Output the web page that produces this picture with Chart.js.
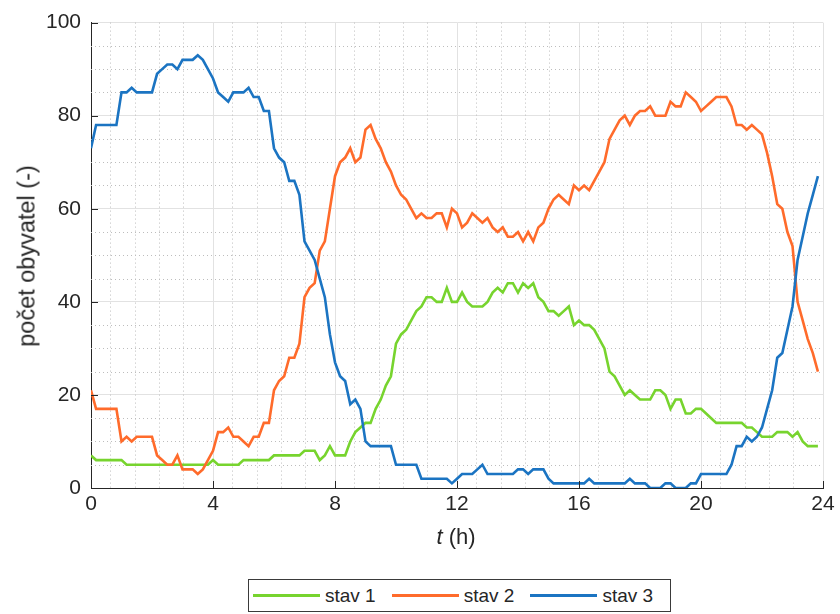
<!DOCTYPE html>
<html>
<head>
<meta charset="utf-8">
<script src="https://cdn.jsdelivr.net/npm/chart.js@4.4.1/dist/chart.umd.min.js"></script>
<style>
  html, body { margin: 0; padding: 0; background: #fff; }
  #wrap { position: relative; width: 840px; height: 614px; font-family: "Liberation Sans", Arial, sans-serif; color: #262626; }
  #c { position: absolute; left: 0; top: 0; }
  .ytitle { position: absolute; left: 27px; top: 256px; transform: translate(-50%, -50%) rotate(-90deg); font-size: 23.5px; white-space: nowrap; }
  .xtitle { position: absolute; left: 456px; top: 537px; transform: translate(-50%, -50%); font-size: 22px; white-space: nowrap; }
  .xtitle i { font-style: italic; }
  #legend { position: absolute; left: 248px; top: 579px; width: 417px; height: 31px; border: 1px solid #3a3a3a; background: #fff;
            display: flex; align-items: center; padding-left: 4px; box-sizing: content-box; font-size: 19px; }
  .item { display: flex; align-items: center; margin-right: 16px; }
  .swatch { width: 67px; height: 2.5px; margin-right: 5px; }
</style>
</head>
<body>
<div id="wrap">
  <canvas id="c" width="840" height="614"></canvas>
  <div class="ytitle">počet obyvatel (-)</div>
  <div class="xtitle"><i>t</i> (h)</div>
  <div id="legend"></div>
</div>
<script>
// sampling interval of the simulation output (minutes)
const stepMinutes = 10;

const seriesNames = ['stav 1', 'stav 2', 'stav 3'];
const seriesColors = ['#77d42e', '#ff6b2b', '#1b74c2'];

const stav1 = [7,6,6,6,6,6,6,5,5,5,5,5,5,5,5,5,5,5,5,5,5,5,5,5,6,5,5,5,5,5,
  6,6,6,6,6,6,7,7,7,7,7,7,8,8,8,6,7,9,7,7,7,10,12,13,14,14,17,19,22,24,
  31,33,34,36,38,39,41,41,40,40,
  43,40,40,42,40,39,39,39,40,42,
  43,42,44,44,42,44,43,44,41,40,
  38,38,37,38,39,35,36,35,35,34,
  32,30,25,24,22,20,21,20,19,19,
  19,21,21,20,17,19,19,16,16,17,
  17,16,15,14,14,14,14,14,14,13,
  13,12,11,11,11,12,12,12,11,12,
  10,9,9,9];

const stav2 = [21,17,17,17,17,17,10,11,10,11,
  11,11,11,7,6,5,5,7,4,4,
  4,3,4,6,8,12,12,13,11,11,
  10,9,11,11,14,14,21,23,24,28,
  28,31,41,43,44,51,53,60,67,70,
  71,73,70,71,77,78,75,73,70,68,
  65,63,62,60,58,59,58,58,59,59,
  56,60,59,56,57,59,58,57,58,56,
  55,56,54,54,55,53,55,53,56,57,
  60,62,63,62,61,65,64,65,64,66,
  68,70,75,77,79,80,78,80,81,81,
  82,80,80,80,83,82,82,85,84,83,
  81,82,83,84,84,84,82,78,78,77,
  78,77,76,72,67,61,60,55,52,40,
  36,32,29,25];

const stav3 = [73,78,78,78,78,78,85,85,86,85,
  85,85,85,89,90,91,91,90,92,92,
  92,93,92,90,88,85,84,83,85,85,
  85,86,84,84,81,81,73,71,70,66,
  66,63,53,51,49,45,41,33,27,24,
  23,18,19,17,10,9,9,9,9,9,
  5,5,5,5,5,2,2,2,2,2,
  2,1,2,3,3,3,4,5,3,3,
  3,3,3,3,4,4,3,4,4,4,
  2,1,1,1,1,1,1,1,2,1,
  1,1,1,1,1,1,2,1,1,1,
  0,0,0,1,1,0,0,0,1,1,
  3,3,3,3,3,3,5,9,9,11,
  10,11,13,17,21,28,29,34,39,49,
  54,59,63,67];

// time of each sample in hours
const hours = stav1.map((_, i) => i * stepMinutes / 60);

const xTicks = [0, 4, 8, 12, 16, 20, 24];
const yTicks = [0, 20, 40, 60, 80, 100];
const xMinorOffsets = [0.63, 1.43, 2.23, 3.03];
const yMinorStep = 5;

const textColor = '#262626';
const axisColor = '#262626';
const majorGrid = '#e2e2e2';
const minorGrid = '#bdbdbd';

const values = [stav1, stav2, stav3];
const datasets = values.map((vals, k) => ({
  label: seriesNames[k],
  data: vals.map((v, i) => ({ x: hours[i], y: v })),
  borderColor: seriesColors[k],
  backgroundColor: seriesColors[k],
  borderWidth: 2.6,
  pointRadius: 0,
  tension: 0,
  fill: false,
  order: 3 - k
}));

// dotted minor grid under the data, inward ticks on the left and bottom axes
const axisDecor = {
  id: 'axisDecor',
  beforeDatasetsDraw(chart) {
    const { ctx, chartArea: a, scales: { x, y } } = chart;
    ctx.save();
    ctx.strokeStyle = minorGrid;
    ctx.lineWidth = 1;
    ctx.setLineDash([1, 3]);
    for (let m = 0; m < 24; m += 4) {
      xMinorOffsets.forEach(o => {
        const px = Math.round(x.getPixelForValue(m + o)) + 0.5;
        ctx.beginPath(); ctx.moveTo(px, a.top); ctx.lineTo(px, a.bottom); ctx.stroke();
      });
    }
    for (let v = yMinorStep; v < 100; v += yMinorStep) {
      if (v % 20 === 0) continue;
      const py = Math.round(y.getPixelForValue(v)) + 0.5;
      ctx.beginPath(); ctx.moveTo(a.left, py); ctx.lineTo(a.right, py); ctx.stroke();
    }
    ctx.restore();
  },
  afterDatasetsDraw(chart) {
    const { ctx, chartArea: a, scales: { x, y } } = chart;
    ctx.save();
    ctx.strokeStyle = axisColor;
    ctx.lineWidth = 1;
    const len = 7;
    xTicks.forEach(v => {
      const px = Math.round(x.getPixelForValue(v)) + 0.5;
      ctx.beginPath(); ctx.moveTo(px, a.bottom); ctx.lineTo(px, a.bottom - len); ctx.stroke();
    });
    yTicks.forEach(v => {
      const py = Math.round(y.getPixelForValue(v)) + 0.5;
      ctx.beginPath(); ctx.moveTo(a.left, py); ctx.lineTo(a.left + len, py); ctx.stroke();
    });
    ctx.restore();
  }
};

Chart.defaults.font.family = '"Liberation Sans", Arial, sans-serif';
Chart.defaults.color = textColor;

new Chart(document.getElementById('c'), {
  type: 'line',
  data: { datasets },
  options: {
    responsive: false,
    animation: false,
    layout: { padding: { left: 0, top: 18, right: 17, bottom: 86 } },
    plugins: { legend: { display: false }, tooltip: { enabled: false } },
    scales: {
      x: {
        type: 'linear', min: 0, max: 24,
        afterBuildTicks: s => { s.ticks = xTicks.map(v => ({ value: v })); },
        afterFit: s => { s.height = 40; },
        ticks: { font: { size: 21 }, color: textColor, padding: 4, maxRotation: 0 },
        grid: { color: majorGrid, lineWidth: 1, drawTicks: false },
        border: { display: true, color: axisColor, width: 1 }
      },
      y: {
        min: 0, max: 100,
        afterBuildTicks: s => { s.ticks = yTicks.map(v => ({ value: v })); },
        afterFit: s => { s.width = 91; },
        ticks: { font: { size: 21 }, color: textColor, padding: 10 },
        grid: { color: majorGrid, lineWidth: 1, drawTicks: false },
        border: { display: true, color: axisColor, width: 1 }
      }
    }
  },
  plugins: [axisDecor]
});

// legend row
const legend = document.getElementById('legend');
seriesNames.forEach((name, k) => {
  const item = document.createElement('div');
  item.className = 'item';
  const sw = document.createElement('div');
  sw.className = 'swatch';
  sw.style.background = seriesColors[k];
  const label = document.createElement('span');
  label.textContent = name;
  item.appendChild(sw);
  item.appendChild(label);
  legend.appendChild(item);
});
</script>
</body>
</html>
